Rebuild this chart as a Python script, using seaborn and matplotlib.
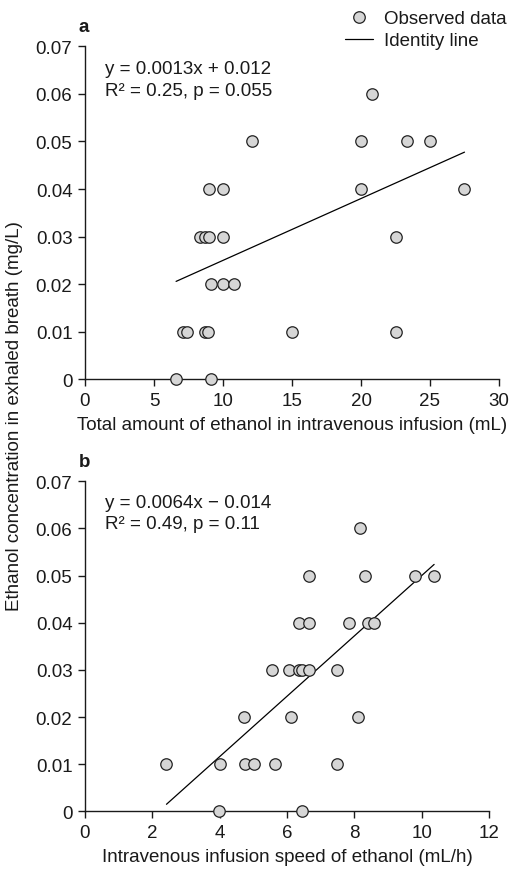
import matplotlib
matplotlib.use("Agg")
import matplotlib.pyplot as plt
import seaborn as sns
import numpy as np
import pandas as pd
from matplotlib.lines import Line2D

# ---- data ----
amount_x = [20.8, 12.1, 20.0, 23.3, 25.0,
            9.0, 10.0, 20.0, 27.5,
            8.3, 8.7, 9.0, 10.0, 22.5,
            9.1, 10.0, 10.8,
            7.1, 7.4, 8.7, 8.9, 15.0, 22.5,
            6.6, 9.1]
amount_y = [0.06, 0.05, 0.05, 0.05, 0.05,
            0.04, 0.04, 0.04, 0.04,
            0.03, 0.03, 0.03, 0.03, 0.03,
            0.02, 0.02, 0.02,
            0.01, 0.01, 0.01, 0.01, 0.01, 0.01,
            0.0, 0.0]
speed_x = [8.16, 6.65, 8.33, 9.81, 10.37,
           6.36, 6.66, 7.83, 8.42, 8.57,
           5.55, 6.05, 6.36, 6.44, 6.65, 7.48,
           4.71, 6.11, 8.12,
           2.42, 4.02, 4.76, 5.02, 5.65, 7.48,
           3.98, 6.45]
speed_y = [0.06, 0.05, 0.05, 0.05, 0.05,
           0.04, 0.04, 0.04, 0.04, 0.04,
           0.03, 0.03, 0.03, 0.03, 0.03, 0.03,
           0.02, 0.02, 0.02,
           0.01, 0.01, 0.01, 0.01, 0.01, 0.01,
           0.0, 0.0]
fit_a = (0.0013, 0.012)
fit_b = (0.0064, -0.014)
eq_a = ["y = 0.0013x + 0.012", "R² = 0.25, p = 0.055"]
eq_b = ["y = 0.0064x − 0.014", "R² = 0.49, p = 0.11"]
xticks_a = [0, 5, 10, 15, 20, 25, 30]
xticks_b = [0, 2, 4, 6, 8, 10, 12]
yticks = [0, 0.01, 0.02, 0.03, 0.04, 0.05, 0.06, 0.07]
xlabel_a = "Total amount of ethanol in intravenous infusion (mL)"
xlabel_b = "Intravenous infusion speed of ethanol (mL/h)"
ylabel = "Ethanol concentration in exhaled breath (mg/L)"

sns.set_theme(style="ticks")
plt.rcParams['font.family'] = ['Liberation Sans', 'DejaVu Sans']
FS = 13.5
TXT = "#1a1a1a"

W, H = 512, 870
fig = plt.figure(figsize=(W / 100, H / 100), dpi=100)
ax_a = fig.add_axes([85 / W, 1 - 380.3 / H, 414 / W, 333 / H])
ax_b = fig.add_axes([85 / W, 1 - 812.3 / H, 404 / W, 330 / H])

face = "#d6d6d6"
edge = "#222222"


def panel(ax, xs, ys, fit, eq, xticks, xlabel, letter, ty):
    df = pd.DataFrame({"x": xs, "y": ys})
    sns.scatterplot(data=df, x="x", y="y", ax=ax, s=68, color=face,
                    edgecolor=edge, linewidth=0.9, clip_on=False, zorder=3)
    x0, x1 = min(xs), max(xs)
    lx = np.array([x0, x1])
    ly = fit[0] * lx + fit[1]
    sns.lineplot(x=lx, y=ly, ax=ax, color="black", linewidth=0.9, zorder=2)
    ax.set_xlim(xticks[0], xticks[-1])
    ax.set_ylim(0, 0.07)
    ax.set_xticks(xticks)
    ax.set_xticklabels([str(t) for t in xticks])
    ax.set_yticks(yticks)
    ax.set_yticklabels(["0" if v == 0 else f"{v:.2f}" for v in yticks])
    ax.tick_params(direction="out", length=5, width=1, labelsize=FS,
                   colors=TXT, pad=4)
    for s in ["top", "right"]:
        ax.spines[s].set_visible(False)
    for s in ["left", "bottom"]:
        ax.spines[s].set_linewidth(1)
        ax.spines[s].set_color(TXT)
    ax.set_xlabel(xlabel, fontsize=FS, color=TXT, labelpad=5)
    ax.set_ylabel("")
    ax.text(0.049, ty[0], eq[0], transform=ax.transAxes, fontsize=FS,
            color=TXT, ha="left", va="center")
    ax.text(0.049, ty[1], eq[1], transform=ax.transAxes, fontsize=FS,
            color=TXT, ha="left", va="center")
    ax.text(-0.015, 1.06, letter, transform=ax.transAxes, fontsize=FS,
            fontweight="bold", color=TXT, ha="left", va="center")


panel(ax_a, amount_x, amount_y, fit_a, eq_a, xticks_a, xlabel_a, "a",
      (0.932, 0.866))
panel(ax_b, speed_x, speed_y, fit_b, eq_b, xticks_b, xlabel_b, "b",
      (0.937, 0.872))

fig.text(15 / W, 1 - 416 / H, ylabel, rotation=90, ha="center", va="center",
         fontsize=FS, color=TXT)

handles = [
    Line2D([], [], marker="o", linestyle="none", markersize=8.3,
           markerfacecolor=face, markeredgecolor=edge, markeredgewidth=0.9),
    Line2D([], [], color="black", linewidth=0.9),
]
fig.legend(handles, ["Observed data", "Identity line"], loc="upper right",
           bbox_to_anchor=(1.012, 1.0), frameon=False, fontsize=FS,
           handlelength=1.5, handletextpad=0.6, labelspacing=0.25,
           borderaxespad=0.2, labelcolor=TXT)

fig.savefig("out.png", dpi=100)
